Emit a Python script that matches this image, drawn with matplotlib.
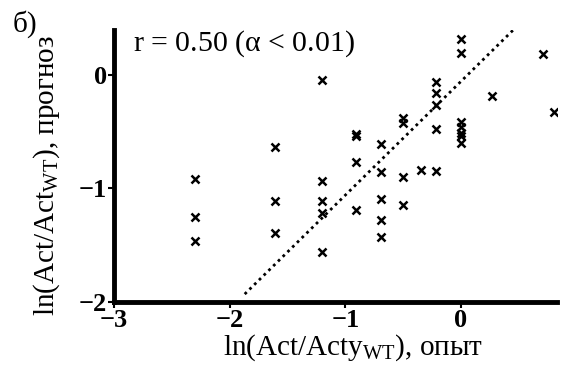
import numpy as np
import matplotlib
matplotlib.use('Agg')
import matplotlib.pyplot as plt

plt.rcParams['font.family'] = ['Liberation Serif', 'DejaVu Serif']
plt.rcParams['mathtext.fontset'] = 'custom'
plt.rcParams['mathtext.rm'] = 'Liberation Serif'

x_exp = [-2.30, -2.30, -2.30,
         -1.61, -1.61, -1.61,
         -1.20, -1.20, -1.20, -1.20, -1.20,
         -0.91, -0.91, -0.91, -0.91,
         -0.69, -0.69, -0.69, -0.69, -0.69,
         -0.50, -0.50, -0.50, -0.50,
         -0.35,
         -0.22, -0.22, -0.22, -0.22, -0.22,
         0.0, 0.0, 0.0, 0.0, 0.0, 0.0, 0.0,
         0.27, 0.71, 0.80]
y_pred = [-0.92, -1.25, -1.46,
          -0.64, -1.11, -1.39,
          -0.05, -0.94, -1.11, -1.22, -1.56,
          -0.52, -0.54, -0.77, -1.19,
          -0.61, -0.86, -1.09, -1.28, -1.43,
          -0.38, -0.43, -0.90, -1.15,
          -0.84,
          -0.07, -0.16, -0.27, -0.48, -0.85,
          0.31, 0.19, -0.42, -0.46, -0.51, -0.54, -0.60,
          -0.19, 0.18, -0.33]

# regression line
fit_slope = 1.0
fit_intercept = -0.06
fit_range = [-1.87, 0.45]

xticks = [-3, -2, -1, 0]
yticks = [-2, -1, 0]

fig = plt.figure(figsize=(5.68, 3.72), dpi=100)
ax = fig.add_axes([0.2007, 0.188, 0.78, 0.731])

ax.plot(x_exp, y_pred, linestyle='none', marker='x', color='black',
        markersize=5.5, markeredgewidth=1.8)

fx = np.array(fit_range)
ax.plot(fx, fit_slope * fx + fit_intercept, color='black', lw=2,
        linestyle=(0, (1, 1.4)))

ax.set_xlim(-3, 0.83)
ax.set_ylim(-2, 0.39)
ax.set_xticks(xticks)
ax.set_yticks(yticks)
ax.set_xticklabels(['\u22123', '\u22122', '\u22121', '0'])
ax.set_yticklabels(['\u22122', '\u22121', '0'])
for lab in ax.get_xticklabels() + ax.get_yticklabels():
    lab.set_fontweight('bold')
    lab.set_fontsize(19)

ax.spines['top'].set_visible(False)
ax.spines['right'].set_visible(False)
ax.spines['left'].set_linewidth(3.5)
ax.spines['bottom'].set_linewidth(3.5)
ax.tick_params(direction='out', length=4, width=1.5, pad=1)

ax.set_xlabel(r'ln(Act/Acty$_{\mathrm{WT}}$), опыт', fontsize=21)
ax.xaxis.set_label_coords(0.54, -0.112)
ax.set_ylabel(r'ln(Act/Act$_{\mathrm{WT}}$), прогноз', fontsize=21)
ax.yaxis.set_label_coords(-0.117, 0.467)

ax.text(0.043, 0.926, r'r = 0.50 ($\mathrm{\alpha}$ < 0.01)', transform=ax.transAxes,
        fontsize=21.5, va='baseline')
fig.text(0.023, 0.914, 'б)', fontsize=21)

fig.savefig('out.png', dpi=100)
